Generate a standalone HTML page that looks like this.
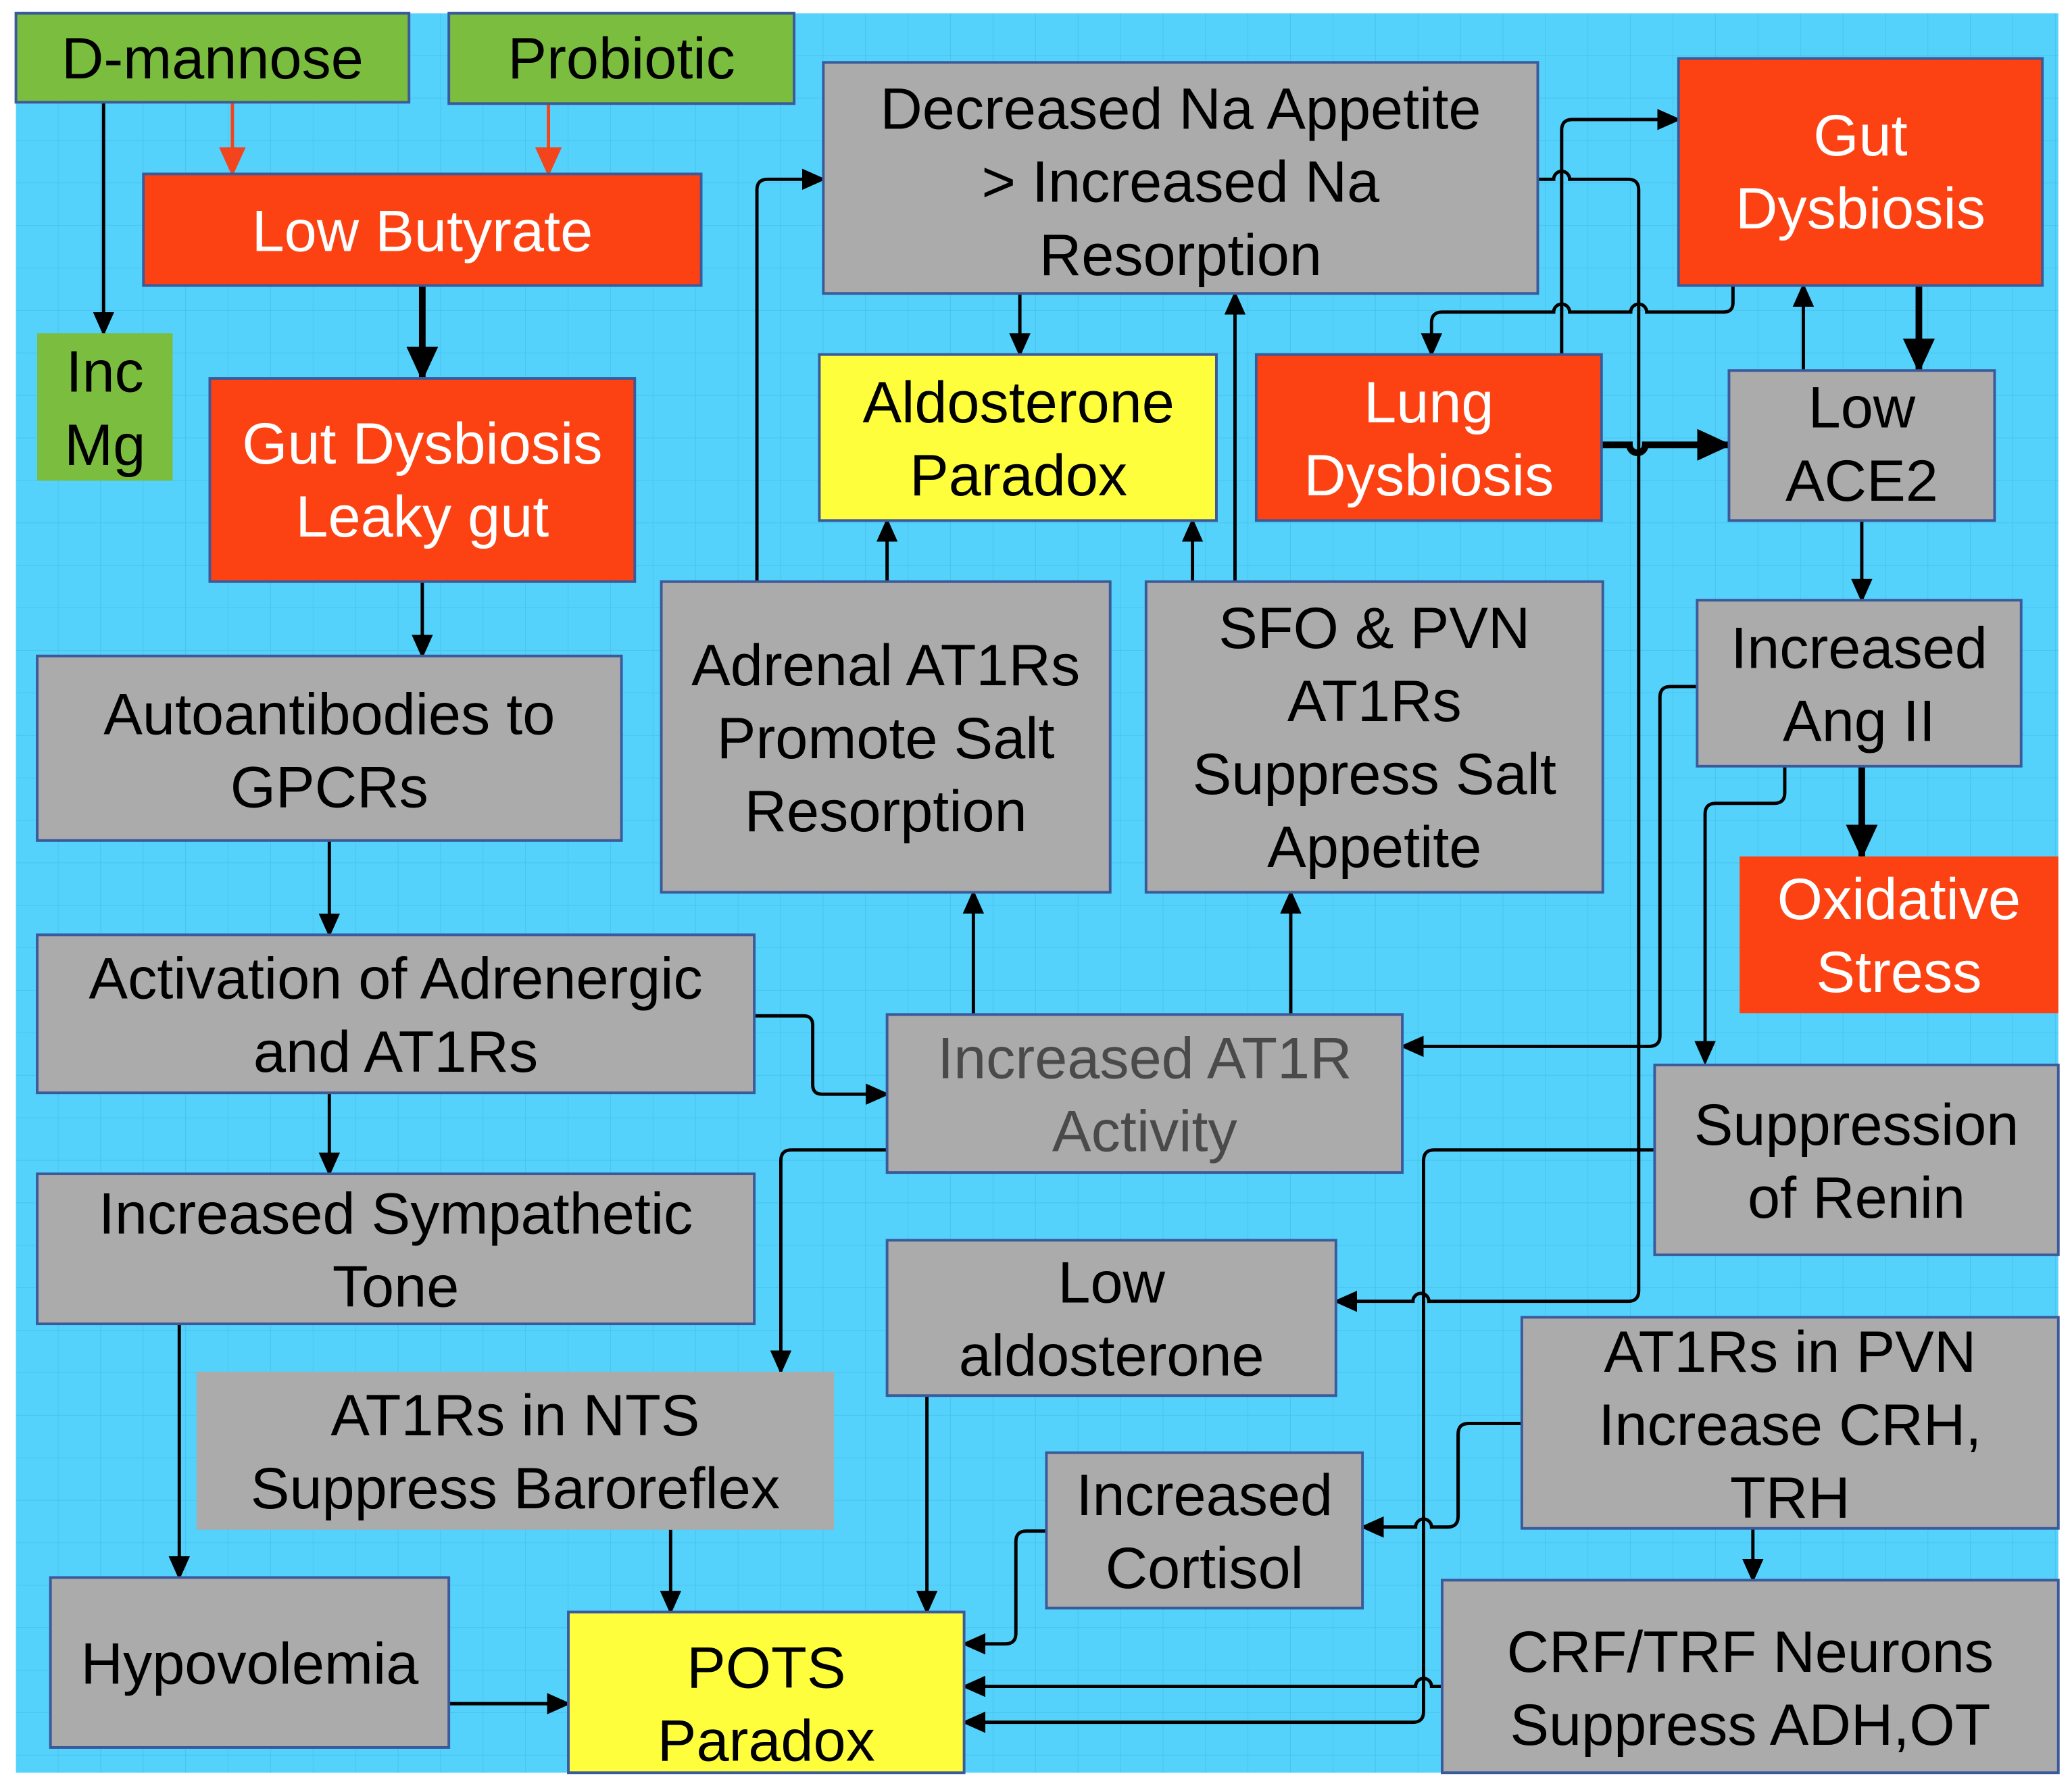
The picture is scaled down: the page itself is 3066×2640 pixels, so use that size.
<!DOCTYPE html>
<html><head><meta charset="utf-8"><style>
html,body{margin:0;padding:0;background:#fff;}
svg{display:block}
text{font-family:"Liberation Sans",sans-serif;font-size:44px;text-anchor:middle;}
</style></head><body>
<svg width="3066" height="2640" viewBox="0 0 1560.3 1343.5" xmlns="http://www.w3.org/2000/svg">
<defs>
<pattern id="g" width="32" height="32" patternUnits="userSpaceOnUse" x="12" y="10">
<path d="M32 0V32M0 32H32" stroke="#46bfe6" stroke-width="0.8" fill="none"/>
</pattern>
<marker id="a" markerWidth="18" markerHeight="18" refX="16" refY="9" orient="auto" markerUnits="userSpaceOnUse"><path d="M0 1L18 9L0 17Z" fill="#000"/></marker>
<marker id="b" markerWidth="26" markerHeight="26" refX="24" refY="13" orient="auto" markerUnits="userSpaceOnUse"><path d="M0 1L26 13L0 25Z" fill="#000"/></marker>
<marker id="r" markerWidth="22" markerHeight="22" refX="20" refY="11" orient="auto" markerUnits="userSpaceOnUse"><path d="M0 1L22 11L0 21Z" fill="#f2451e"/></marker>
</defs>
<rect x="12" y="10" width="1538" height="1325" fill="#55d2fb"/>
<rect x="12" y="10" width="1538" height="1325" fill="url(#g)"/>

<g fill="none" stroke="#000" stroke-width="2.5">
<path d="M78 77V251" marker-end="url(#a)"/>
<path d="M248 633V704" marker-end="url(#a)"/>
<path d="M318 438V494" marker-end="url(#a)"/>
<path d="M248 823V884" marker-end="url(#a)"/>
<path d="M135 997V1188" marker-end="url(#a)"/>
<path d="M338 1283H428" marker-end="url(#a)"/>
<path d="M505 1152V1214" marker-end="url(#a)"/>
<path d="M698 1051V1214" marker-end="url(#a)"/>
<path d="M568 765H605Q612 765 612 772V817Q612 824 619 824H668" marker-end="url(#a)"/>
<path d="M668 866H596Q588 866 588 874V1033" marker-end="url(#a)"/>
<path d="M733 764V672" marker-end="url(#a)"/>
<path d="M972 764V672" marker-end="url(#a)"/>
<path d="M668 438V392" marker-end="url(#a)"/>
<path d="M898 438V392" marker-end="url(#a)"/>
<path d="M570 438V143Q570 135 578 135H620" marker-end="url(#a)"/>
<path d="M930 438V221" marker-end="url(#a)"/>
<path d="M768 221V267" marker-end="url(#a)"/>
<path d="M1305 215V228Q1305 235 1298 235H1240A6 6 0 0 0 1228 235H1182A6 6 0 0 0 1170 235H1086Q1078 235 1078 243V267" marker-end="url(#a)"/>
<path d="M1176 267V98Q1176 90 1184 90H1264" marker-end="url(#a)"/>
<path d="M1358 279V215" marker-end="url(#a)"/>
<path d="M1402 392V452" marker-end="url(#a)"/>
<path d="M1344 577V597Q1344 605 1336 605H1292Q1284 605 1284 613V800" marker-end="url(#a)"/>
<path d="M1278 517H1258Q1250 517 1250 525V780Q1250 788 1242 788H1056" marker-end="url(#a)"/>
<path d="M1158 135H1170A6 6 0 0 1 1182 135H1226Q1234 135 1234 143V972Q1234 980 1226 980H1076A6 6 0 0 0 1064 980H1006" marker-end="url(#a)"/>
<path d="M1246 866H1080Q1072 866 1072 874V1289Q1072 1297 1064 1297H726" marker-end="url(#a)"/>
<path d="M1086 1270H1078A6 6 0 0 0 1066 1270H726" marker-end="url(#a)"/>
<path d="M1146 1072H1106Q1098 1072 1098 1080V1142Q1098 1150 1090 1150H1078A6 6 0 0 0 1066 1150H1026" marker-end="url(#a)"/>
<path d="M1320 1151V1190" marker-end="url(#a)"/>
<path d="M788 1153H773Q765 1153 765 1161V1230Q765 1238 757 1238H726" marker-end="url(#a)"/>
</g>
<g fill="none" stroke="#000" stroke-width="5">
<path d="M318 215V285" marker-end="url(#b)"/>
<path d="M1206 335H1227A6 6 0 0 0 1239 335H1302" marker-end="url(#b)"/>
<path d="M1445 215V279" marker-end="url(#b)"/>
<path d="M1402 577V645" marker-end="url(#b)"/>
</g>
<g fill="none" stroke="#f2451e" stroke-width="2.5">
<path d="M175 77V131" marker-end="url(#r)"/>
<path d="M413 78V131" marker-end="url(#r)"/>
</g>

<g stroke="#3b5a9a" stroke-width="2">
<rect x="12" y="10" width="296" height="67" fill="#7bbd3e"/>
<rect x="338" y="10" width="260" height="68" fill="#7bbd3e"/>
<rect x="108" y="131" width="420" height="84" fill="#fc4213"/>
<rect x="28" y="251" width="102" height="111" fill="#7bbd3e" stroke="none"/>
<rect x="158" y="285" width="320" height="153" fill="#fc4213"/>
<rect x="620" y="47" width="538" height="174" fill="#ababab"/>
<rect x="1264" y="44" width="274" height="171" fill="#fc4213"/>
<rect x="617" y="267" width="299" height="125" fill="#fefe3d"/>
<rect x="946" y="267" width="260" height="125" fill="#fc4213"/>
<rect x="1302" y="279" width="200" height="113" fill="#ababab"/>
<rect x="28" y="494" width="440" height="139" fill="#ababab"/>
<rect x="498" y="438" width="338" height="234" fill="#ababab"/>
<rect x="863" y="438" width="344" height="234" fill="#ababab"/>
<rect x="1278" y="452" width="244" height="125" fill="#ababab"/>
<rect x="1310" y="645" width="240" height="118" fill="#fc4213" stroke="none"/>
<rect x="28" y="704" width="540" height="119" fill="#ababab"/>
<rect x="668" y="764" width="388" height="119" fill="#ababab"/>
<rect x="1246" y="802" width="304" height="143" fill="#ababab"/>
<rect x="28" y="884" width="540" height="113" fill="#ababab"/>
<rect x="668" y="934" width="338" height="117" fill="#ababab"/>
<rect x="1146" y="992" width="404" height="159" fill="#ababab"/>
<rect x="148" y="1033" width="480" height="119" fill="#ababab" stroke="none"/>
<rect x="788" y="1094" width="238" height="117" fill="#ababab"/>
<rect x="38" y="1188" width="300" height="128" fill="#ababab"/>
<rect x="428" y="1214" width="298" height="121" fill="#fefe3d"/>
<rect x="1086" y="1190" width="464" height="145" fill="#ababab"/>
</g>

<g fill="#000">
<text x="160" y="59">D-mannose</text>
<text x="468" y="59">Probiotic</text>
<text x="79" y="295">Inc</text>
<text x="79" y="350">Mg</text>
<text x="889" y="97">Decreased Na Appetite</text>
<text x="889" y="152">&gt; Increased Na</text>
<text x="889" y="207">Resorption</text>
<text x="767" y="318">Aldosterone</text>
<text x="767" y="373">Paradox</text>
<text x="1402" y="322">Low</text>
<text x="1402" y="377">ACE2</text>
<text x="248" y="553">Autoantibodies to</text>
<text x="248" y="608">GPCRs</text>
<text x="667" y="516">Adrenal AT1Rs</text>
<text x="667" y="571">Promote Salt</text>
<text x="667" y="626">Resorption</text>
<text x="1035" y="488">SFO &amp; PVN</text>
<text x="1035" y="543">AT1Rs</text>
<text x="1035" y="598">Suppress Salt</text>
<text x="1035" y="653">Appetite</text>
<text x="1400" y="503">Increased</text>
<text x="1400" y="558">Ang II</text>
<text x="298" y="752">Activation of Adrenergic</text>
<text x="298" y="807">and AT1Rs</text>
<text x="862" y="812" fill="#4a4a4a">Increased AT1R</text>
<text x="862" y="867" fill="#4a4a4a">Activity</text>
<text x="1398" y="862">Suppression</text>
<text x="1398" y="917">of Renin</text>
<text x="298" y="929">Increased Sympathetic</text>
<text x="298" y="984">Tone</text>
<text x="837" y="981">Low</text>
<text x="837" y="1036">aldosterone</text>
<text x="1348" y="1033">AT1Rs in PVN</text>
<text x="1348" y="1088">Increase CRH,</text>
<text x="1348" y="1143">TRH</text>
<text x="388" y="1081">AT1Rs in NTS</text>
<text x="388" y="1136">Suppress Baroreflex</text>
<text x="907" y="1141">Increased</text>
<text x="907" y="1196">Cortisol</text>
<text x="188" y="1268">Hypovolemia</text>
<text x="577" y="1271">POTS</text>
<text x="577" y="1326">Paradox</text>
<text x="1318" y="1259">CRF/TRF Neurons</text>
<text x="1318" y="1314">Suppress ADH,OT</text>
</g>
<g fill="#fff">
<text x="318" y="189">Low Butyrate</text>
<text x="318" y="349">Gut Dysbiosis</text>
<text x="318" y="404">Leaky gut</text>
<text x="1401" y="117">Gut</text>
<text x="1401" y="172">Dysbiosis</text>
<text x="1076" y="318">Lung</text>
<text x="1076" y="373">Dysbiosis</text>
<text x="1430" y="692">Oxidative</text>
<text x="1430" y="747">Stress</text>
</g>
</svg>
</body></html>
